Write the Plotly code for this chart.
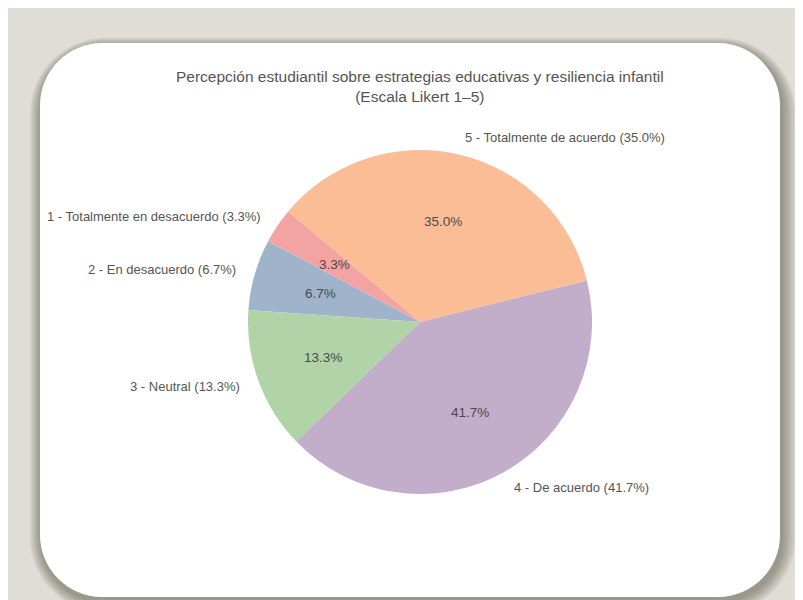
import math
import plotly.graph_objects as go

# ---- data ----
categories = [
    "1 - Totalmente en desacuerdo",
    "2 - En desacuerdo",
    "3 - Neutral",
    "4 - De acuerdo",
    "5 - Totalmente de acuerdo",
]
counts = [2, 4, 8, 25, 21]
colors = ["#f4a3a3", "#9fb3cb", "#b0d4a8", "#c2adca", "#fbbd95"]
title_lines = ["Percepción estudiantil sobre estrategias educativas y resiliencia infantil",
               "(Escala Likert 1–5)"]

W, H = 803, 600
OFF = 8            # browser body margin
START_ANGLE = 140  # degrees, counter-clockwise from 3 o'clock

# pie geometry (screen pixels)
CX, CY, R = 420, 322, 172


def px(x):
    return (x - OFF) / W


def py(y):
    return 1 - (y - OFF) / H


def rrect(x0, y0, x1, y1, r):
    pts = [
        ("M", [(x0 + r, y0)]),
        ("L", [(x1 - r, y0)]),
        ("C", [(x1 - r * 0.45, y0), (x1, y0 + r * 0.45), (x1, y0 + r)]),
        ("L", [(x1, y1 - r)]),
        ("C", [(x1, y1 - r * 0.45), (x1 - r * 0.45, y1), (x1 - r, y1)]),
        ("L", [(x0 + r, y1)]),
        ("C", [(x0 + r * 0.45, y1), (x0, y1 - r * 0.45), (x0, y1 - r)]),
        ("L", [(x0, y0 + r)]),
        ("C", [(x0, y0 + r * 0.45), (x0 + r * 0.45, y0), (x0 + r, y0)]),
    ]
    s = ""
    for cmd, ps in pts:
        s += cmd + " " + " ".join(f"{px(a):.5f},{py(b):.5f}" for a, b in ps) + " "
    return s + "Z"


CARD = (40, 43, 780, 597, 62)
shapes = []
# soft shadow layers
for i in range(14, 0, -1):
    x0, y0, x1, y1, r = CARD
    shapes.append(dict(type="path", xref="paper", yref="paper",
                       path=rrect(x0 - i * 0.8 + 1, y0 - i * 0.6 + 3, x1 + i * 1.0 + 2, y1 + i * 0.9 + 4, r + i),
                       fillcolor="rgba(80,70,60,0.04)", line=dict(width=0), layer="below"))
# white card
shapes.append(dict(type="path", xref="paper", yref="paper", path=rrect(*CARD),
                   fillcolor="white", line=dict(width=0), layer="below"))

total = sum(counts)
pcts = [100 * c / total for c in counts]

fig = go.Figure()
fig.add_trace(go.Pie(
    labels=categories, values=counts, sort=False, direction="counterclockwise",
    # plotly places the first counter-clockwise slice ending at `rotation`
    rotation=90 - START_ANGLE - 360 * counts[0] / total,
    textinfo="none", hoverinfo="label+percent",
    marker=dict(colors=colors, line=dict(width=0)),
    domain=dict(x=[px(CX - R), px(CX + R)], y=[py(CY + R), py(CY - R)]),
    showlegend=False,
))

FONT = "Liberation Sans, Arial"
annotations = []
cum = 0
for cat, c, p in zip(categories, counts, pcts):
    mid = math.radians(START_ANGLE + 360 * (cum + c / 2) / total)
    cum += c
    # outer label
    lx = CX + 1.1 * R * math.cos(mid)
    ly = CY - 1.1 * R * math.sin(mid)
    annotations.append(dict(x=px(lx), y=py(ly), xref="paper", yref="paper",
                            text=f"{cat} ({p:.1f}%)", showarrow=False,
                            xanchor="left" if math.cos(mid) > 0 else "right", yanchor="middle",
                            font=dict(family=FONT, size=13, color="#555555")))
    # inner percentage
    ix = CX + 0.6 * R * math.cos(mid)
    iy = CY - 0.6 * R * math.sin(mid)
    annotations.append(dict(x=px(ix), y=py(iy), xref="paper", yref="paper",
                            text=f"{p:.1f}%", showarrow=False, xanchor="center", yanchor="middle",
                            font=dict(family=FONT, size=13.5, color="#4a4a4a")))

annotations.append(dict(x=px(CX), y=py(86), xref="paper", yref="paper",
                        text="<br>".join(title_lines), showarrow=False, xanchor="center", yanchor="middle",
                        font=dict(family=FONT, size=15.5, color="#555555")))

fig.update_layout(
    width=W, height=H, margin=dict(l=0, r=0, t=0, b=0),
    paper_bgcolor="#e0dcd7", plot_bgcolor="#e0dcd7",
    shapes=shapes, annotations=annotations,
)
fig.write_html("out.html")
